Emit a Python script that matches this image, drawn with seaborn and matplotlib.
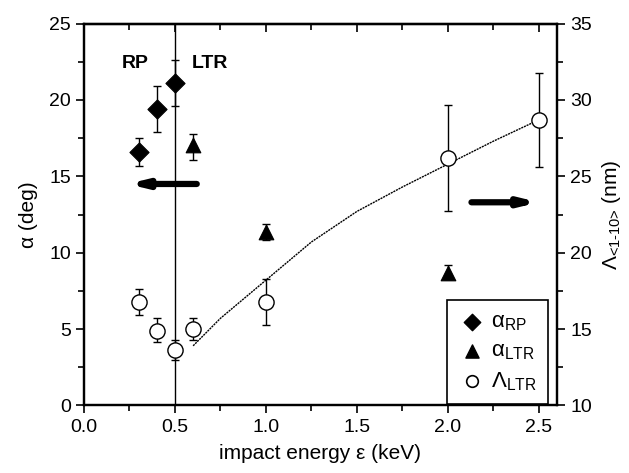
import numpy as np
import pandas as pd
import seaborn as sns
import matplotlib
matplotlib.use("Agg")
import matplotlib.pyplot as plt

sns.set_style("ticks")
plt.rcParams['font.family'] = ['Liberation Sans', 'DejaVu Sans']
plt.rcParams['mathtext.fontset'] = 'custom'
plt.rcParams['mathtext.rm'] = 'Liberation Sans'
plt.rcParams['mathtext.it'] = 'Liberation Sans'
plt.rcParams['mathtext.default'] = 'regular'
plt.rcParams['text.color'] = 'black'
plt.rcParams['axes.labelcolor'] = 'black'
plt.rcParams['xtick.color'] = 'black'
plt.rcParams['ytick.color'] = 'black'

# alpha in the RP regime (left axis)
rp_x = [0.3, 0.4, 0.5]
rp_y = [16.6, 19.4, 21.1]
rp_lo = [15.7, 17.9, 19.6]
rp_hi = [17.5, 20.9, 22.6]

# alpha in the LTR regime (left axis)
ltr_x = [0.6, 1.0, 2.0]
ltr_y = [17.05, 11.35, 8.7]
ltr_lo = [16.1, 10.8, 8.25]
ltr_hi = [17.8, 11.9, 9.2]

# Lambda (right axis)
lam_x = [0.3, 0.4, 0.5, 0.6, 1.0, 2.0, 2.5]
lam_y = [16.8, 14.9, 13.65, 15.0, 16.8, 26.2, 28.7]
lam_lo = [15.95, 14.15, 12.95, 14.25, 15.25, 22.75, 25.6]
lam_hi = [17.65, 15.7, 14.3, 15.75, 18.25, 29.7, 31.8]

# fitted curve for Lambda
fit_x = [0.6, 0.75, 1.0, 1.25, 1.5, 1.75, 2.0, 2.25, 2.5]
fit_y = [13.9, 15.7, 18.2, 20.7, 22.7, 24.3, 25.8, 27.3, 28.7]

fig = plt.figure(figsize=(6.29, 4.73), dpi=100)
ax = fig.add_axes([0.1335, 0.143, 0.752, 0.807])
ax2 = ax.twinx()

# vertical separator RP | LTR
ax.axvline(0.5, color='black', lw=1, zorder=1)

# error bars
ax.errorbar(rp_x, rp_y, yerr=[np.subtract(rp_y, rp_lo), np.subtract(rp_hi, rp_y)],
            fmt='none', ecolor='black', elinewidth=1, capsize=3, zorder=2)
ax.errorbar(ltr_x, ltr_y, yerr=[np.subtract(ltr_y, ltr_lo), np.subtract(ltr_hi, ltr_y)],
            fmt='none', ecolor='black', elinewidth=1, capsize=3, zorder=2)
ax2.errorbar(lam_x, lam_y, yerr=[np.subtract(lam_y, lam_lo), np.subtract(lam_hi, lam_y)],
             fmt='none', ecolor='black', elinewidth=1, capsize=3, zorder=2)

# fitted curve
sns.lineplot(x=fit_x, y=fit_y, ax=ax2, color='black', lw=1, linestyle=(0, (1.5, 0.6)), zorder=2)

# points
sns.scatterplot(x=rp_x, y=rp_y, ax=ax, marker='D', s=95, color='black', edgecolor='black', zorder=3)
sns.scatterplot(x=ltr_x, y=ltr_y, ax=ax, marker='^', s=110, color='black', edgecolor='black', zorder=3)
sns.scatterplot(x=lam_x, y=lam_y, ax=ax2, marker='o', s=120, color='white', edgecolor='black',
                linewidth=1, zorder=3)

# arrows
ax.annotate('', xy=(0.24, 14.5), xytext=(0.62, 14.5),
            arrowprops=dict(arrowstyle='-|>,head_length=0.9,head_width=0.22', lw=4.5, color='black',
                            shrinkA=0, shrinkB=0))
ax2.annotate('', xy=(2.5, 23.3), xytext=(2.13, 23.3),
             arrowprops=dict(arrowstyle='-|>,head_length=0.9,head_width=0.22', lw=4.5, color='black',
                             shrinkA=0, shrinkB=0))

ax.text(0.28, 22.4, 'RP', fontsize=14, fontweight='bold', ha='center', va='center')
ax.text(0.69, 22.4, 'LTR', fontsize=14, fontweight='bold', ha='center', va='center')

# axes
ax.set_xlim(0, 2.6)
ax.set_ylim(0, 25)
ax2.set_ylim(10, 35)
ax.set_xticks([0.0, 0.5, 1.0, 1.5, 2.0, 2.5])
ax.set_xticks(np.arange(0.25, 2.6, 0.5), minor=True)
ax.set_yticks([0, 5, 10, 15, 20, 25])
ax.set_yticks(np.arange(2.5, 25, 5), minor=True)
ax2.set_yticks([10, 15, 20, 25, 30, 35])
ax2.set_yticks(np.arange(12.5, 35, 5), minor=True)

for a in (ax, ax2):
    for sp in a.spines.values():
        sp.set_visible(True)
        sp.set_linewidth(1.6)
        sp.set_color('black')
ax.tick_params(axis='both', which='major', labelsize=14, length=6, width=1.2)
ax.tick_params(axis='both', which='minor', length=4, width=1.2)
ax2.tick_params(axis='y', which='major', labelsize=14, length=6, width=1.2)
ax2.tick_params(axis='y', which='minor', length=4, width=1.2)

# inward ticks on the top edge
top = ax.secondary_xaxis('top')
top.set_xticks([0.0, 0.5, 1.0, 1.5, 2.0, 2.5])
top.set_xticks(np.arange(0.25, 2.6, 0.5), minor=True)
top.tick_params(which='both', direction='in', labeltop=False, width=1.2)
top.tick_params(which='major', length=6)
top.tick_params(which='minor', length=4)
top.spines['top'].set_linewidth(1.6)

ax.set_xlabel('impact energy ε (keV)', fontsize=15, labelpad=6)
ax.set_ylabel('α (deg)', fontsize=15, labelpad=8)
ax2.set_ylabel(r'$Λ_{\text{<1-10>}}$ (nm)', fontsize=15, labelpad=6)

# legend
h1 = ax.scatter([], [], marker='D', s=70, color='black')
h2 = ax.scatter([], [], marker='^', s=90, color='black')
h3 = ax.scatter([], [], marker='o', s=70, facecolor='white', edgecolor='black', linewidth=1.2)
leg = ax2.legend([h1, h2, h3], [r'$α_{RP}$', r'$α_{LTR}$', r'$Λ_{LTR}$'],
                 loc='lower right', bbox_to_anchor=(0.981, 0.004), borderaxespad=0, fontsize=16,
                 frameon=True, fancybox=False, edgecolor='black', framealpha=1,
                 handletextpad=0.2, labelspacing=0.35, borderpad=0.5, handlelength=1.3)
leg.get_frame().set_linewidth(1.2)

fig.savefig('out.png', dpi=100)
